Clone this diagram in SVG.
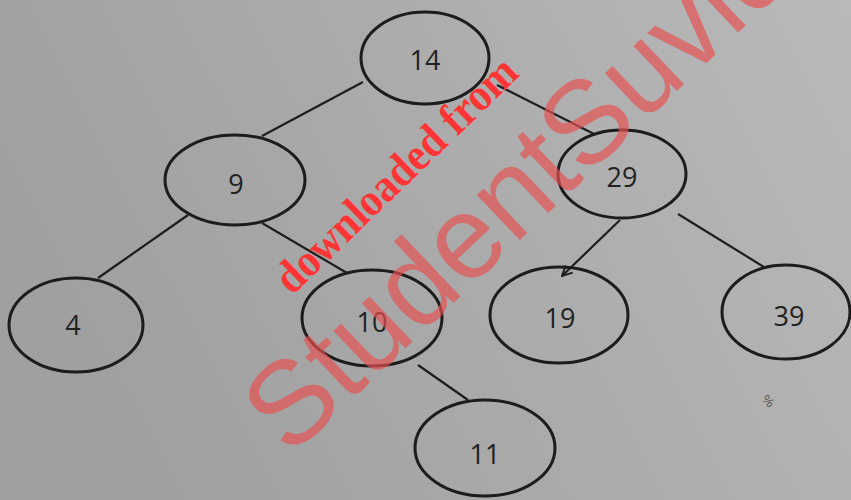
<svg xmlns="http://www.w3.org/2000/svg" width="851" height="500" viewBox="0 0 851 500">
<defs>
<linearGradient id="bg" x1="0" y1="0.3" x2="1" y2="0">
<stop offset="0" stop-color="#a0a0a0"/>
<stop offset="0.5" stop-color="#acacac"/>
<stop offset="1" stop-color="#b9b9b9"/>
</linearGradient>
<marker id="arr" viewBox="0 0 12 12" refX="11" refY="6" markerWidth="12" markerHeight="12" markerUnits="userSpaceOnUse" orient="auto">
<path d="M1,1 L11,6 L1,11" fill="none" stroke="#1e1e1e" stroke-width="2"/>
</marker>
</defs>
<style>
.n ellipse{fill:none;stroke:#1c1c1c;stroke-width:3}
.n text{font-family:"Open Sans","Liberation Sans",sans-serif;font-size:27px;fill:#222;text-anchor:middle}
#edges line{stroke:#1e1e1e;stroke-width:2.2}
</style>
<rect width="851" height="500" fill="url(#bg)"/>
<g id="edges">
<line x1="363" y1="82" x2="262" y2="136"/>
<line x1="497" y1="85" x2="594" y2="134"/>
<line x1="188" y1="215" x2="98" y2="278"/>
<line x1="262" y1="223" x2="347" y2="273"/>
<line x1="620" y1="220" x2="562" y2="276" marker-end="url(#arr)"/>
<line x1="678" y1="214" x2="764" y2="267"/>
<line x1="418" y1="365" x2="468" y2="400"/>
</g>
<g id="n14" class="n"><ellipse cx="425" cy="58" rx="64" ry="46"/><text x="425" y="70">14</text></g>
<g id="n9" class="n"><ellipse cx="235" cy="180" rx="70" ry="45"/><text x="236" y="194">9</text></g>
<g id="n29" class="n"><ellipse cx="622" cy="174" rx="64" ry="44"/><text x="622" y="187">29</text></g>
<g id="n4" class="n"><ellipse cx="76" cy="325" rx="67" ry="47"/><text x="73" y="335">4</text></g>
<g id="n10" class="n"><ellipse cx="372" cy="318" rx="70" ry="48"/><text x="372" y="332">10</text></g>
<g id="n19" class="n"><ellipse cx="559" cy="315" rx="69" ry="48"/><text x="560" y="328">19</text></g>
<g id="n39" class="n"><ellipse cx="786" cy="312" rx="64" ry="47"/><text x="789" y="326">39</text></g>
<g id="n11" class="n"><ellipse cx="485" cy="448" rx="70" ry="48"/><text x="485" y="464">11</text></g>
<text x="0" y="0" transform="translate(765,404) rotate(45)" font-family="Liberation Sans, sans-serif" font-size="13" fill="#555" text-anchor="middle">%</text>
<text x="0" y="0" transform="translate(290,458) rotate(-43.5)" font-family="Liberation Sans, Arial, sans-serif" font-size="118" fill="#e85050" fill-opacity="0.68">StudentSuvidha</text>
<text x="0" y="0" transform="translate(292,296) rotate(-44)" font-family="Liberation Serif, serif" font-weight="bold" font-size="46" textLength="318" lengthAdjust="spacingAndGlyphs" fill="#ff3434">downloaded from</text>
</svg>
